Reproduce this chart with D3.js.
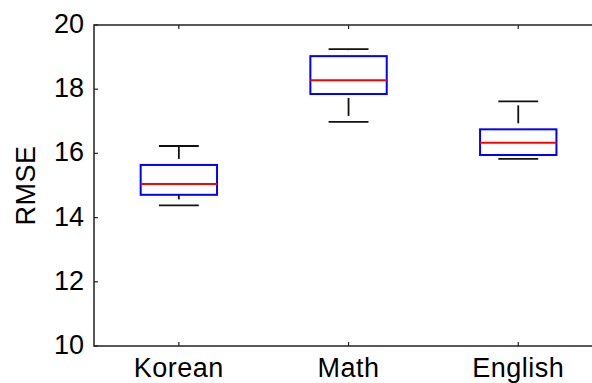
<!DOCTYPE html>
<html lang="en">
<head>
<meta charset="utf-8">
<title>RMSE boxplot</title>
<script src="https://d3js.org/d3.v7.min.js"></script>
<style type="text/css">
body { margin: 0; background: #fff; }
text { font-family: "Liberation Sans", Arial, sans-serif; fill: #000; }
</style>
</head>
<body>
<div id="chart"></div>
<script>
// box statistics
var subjects = ["Korean", "Math", "English"];
var lowWhisker = [14.38, 16.98, 15.83];
var q1 = [14.71, 17.85, 15.95];
var median = [15.05, 18.28, 16.33];
var q3 = [15.64, 19.03, 16.75];
var highWhisker = [16.23, 19.25, 17.62];
var yTicks = [10, 12, 14, 16, 18, 20];

var width = 592, height = 383;

var svg = d3.select("#chart")
  .append("svg")
    .attr("width", width)
    .attr("height", height);

// x positions 1..3, limits 0.5..3.5 (right edge runs off the page)
var x = d3.scaleLinear().domain([0.5, 3.5]).range([94, 603.1]);
var y = d3.scaleLinear().domain([10, 20]).range([346, 25]);

var boxW = 0.45, capW = 0.235;

// axes frame
svg.append("rect")
  .attr("x", x(0.5))
  .attr("y", y(20))
  .attr("width", x(3.5) - x(0.5))
  .attr("height", y(10) - y(20))
  .attr("fill", "none")
  .attr("stroke", "#222")
  .attr("stroke-width", 1.5);

// y ticks (inward) and labels
svg.selectAll(".ytick")
  .data(yTicks)
  .enter()
  .append("line")
    .attr("x1", x(0.5))
    .attr("x2", x(0.5) + 4)
    .attr("y1", function(d) { return y(d); })
    .attr("y2", function(d) { return y(d); })
    .attr("stroke", "#222")
    .attr("stroke-width", 1.2);

svg.selectAll(".ylab")
  .data(yTicks)
  .enter()
  .append("text")
    .attr("x", x(0.5) - 10)
    .attr("y", function(d) { return y(d) + 8; })
    .attr("text-anchor", "end")
    .style("font-size", "27px")
    .text(function(d) { return d; });

// x ticks on bottom and top, labels under
subjects.forEach(function(s, i) {
  var cx = x(i + 1);
  svg.append("line")
    .attr("x1", cx).attr("x2", cx)
    .attr("y1", y(10)).attr("y2", y(10) - 4)
    .attr("stroke", "#222").attr("stroke-width", 1.2);
  svg.append("line")
    .attr("x1", cx).attr("x2", cx)
    .attr("y1", y(20)).attr("y2", y(20) + 4)
    .attr("stroke", "#222").attr("stroke-width", 1.2);
  svg.append("text")
    .attr("x", cx)
    .attr("y", y(10) + 31)
    .attr("text-anchor", "middle")
    .style("font-size", "27px")
    .style("letter-spacing", "0.5px")
    .text(s);
});

svg.append("text")
  .attr("transform", "translate(35," + y(15) + ") rotate(-90)")
  .attr("text-anchor", "middle")
  .style("font-size", "27px")
  .style("letter-spacing", "0.5px")
  .text("RMSE");

// boxes
subjects.forEach(function(s, i) {
  var cx = x(i + 1);
  var g = svg.append("g");

  // dashed whiskers, drawn from low value up to high value
  [[lowWhisker[i], q1[i]], [q3[i], highWhisker[i]]].forEach(function(w) {
    g.append("line")
      .attr("x1", cx).attr("x2", cx)
      .attr("y1", y(w[0])).attr("y2", y(w[1]))
      .attr("stroke", "#111")
      .attr("stroke-width", 1.8)
      .attr("stroke-dasharray", "18 6")
      .attr("stroke-dashoffset", 18);
  });

  // caps
  [lowWhisker[i], highWhisker[i]].forEach(function(v) {
    g.append("line")
      .attr("x1", x(i + 1 - capW / 2)).attr("x2", x(i + 1 + capW / 2))
      .attr("y1", y(v)).attr("y2", y(v))
      .attr("stroke", "#111")
      .attr("stroke-width", 1.8);
  });

  g.append("rect")
    .attr("x", x(i + 1 - boxW / 2))
    .attr("y", y(q3[i]))
    .attr("width", x(i + 1 + boxW / 2) - x(i + 1 - boxW / 2))
    .attr("height", y(q1[i]) - y(q3[i]))
    .attr("fill", "none")
    .attr("stroke", "#0000ff")
    .attr("stroke-width", 2);

  g.append("line")
    .attr("x1", x(i + 1 - boxW / 2)).attr("x2", x(i + 1 + boxW / 2))
    .attr("y1", y(median[i])).attr("y2", y(median[i]))
    .attr("stroke", "#ff0000")
    .attr("stroke-width", 2);
});
</script>
</body>
</html>
